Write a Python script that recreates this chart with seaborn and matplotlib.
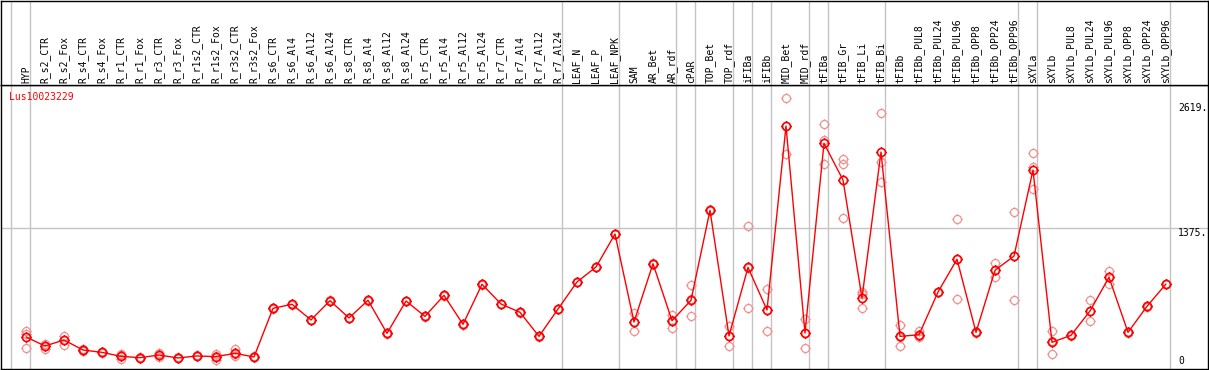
import numpy as np
import pandas as pd
import matplotlib
matplotlib.use("Agg")
import matplotlib.pyplot as plt
import seaborn as sns
from matplotlib.path import Path

gene = "Lus10023229"

categories = [
    "HYP", "R_s2_CTR", "R_s2_Fox", "R_s4_CTR", "R_s4_Fox", "R_r1_CTR", "R_r1_Fox",
    "R_r3_CTR", "R_r3_Fox", "R_r1s2_CTR", "R_r1s2_Fox", "R_r3s2_CTR", "R_r3s2_Fox",
    "R_s6_CTR", "R_s6_Al4", "R_s6_Al12", "R_s6_Al24", "R_s8_CTR", "R_s8_Al4",
    "R_s8_Al12", "R_s8_Al24", "R_r5_CTR", "R_r5_Al4", "R_r5_Al12", "R_r5_Al24",
    "R_r7_CTR", "R_r7_Al4", "R_r7_Al12", "R_r7_Al24", "LEAF_N", "LEAF_P", "LEAF_NPK",
    "SAM", "AR_Bet", "AR_rdf", "cPAR", "TOP_Bet", "TOP_rdf", "iFIBa", "iFIBb",
    "MID_Bet", "MID_rdf", "tFIBa", "tFIB_Gr", "tFIB_Li", "tFIB_Bi", "tFIBb",
    "tFIBb_PUL8", "tFIBb_PUL24", "tFIBb_PUL96", "tFIBb_OPP8", "tFIBb_OPP24",
    "tFIBb_OPP96", "sXYLa", "sXYLb", "sXYLb_PUL8", "sXYLb_PUL24", "sXYLb_PUL96",
    "sXYLb_OPP8", "sXYLb_OPP24", "sXYLb_OPP96",
]

means = [
    289, 199, 259, 159, 136, 96, 83, 109, 80, 100, 93, 126, 90,
    574, 614, 458, 650, 478, 654, 325, 647, 494, 703, 415, 813,
    617, 534, 295, 567, 836, 985, 1313,
    438, 1018, 451, 654, 1549, 299, 981, 557,
    2388, 328, 2216, 1851, 677, 2129, 295,
    311, 736, 1062, 335, 952, 1094,
    1950, 236, 305, 547, 883, 335, 594, 816,
]

rep1 = [
    348, 219, 299, 165, 140, 115, 88, 133, 85, 105, 119, 166, 95,
    578, 618, 462, 654, 482, 658, 329, 651, 498, 707, 419, 817,
    621, 538, 299, 571, 840, 989, 1317,
    524, 1022, 504, 803, 1556, 398, 1393, 763,
    2663, 471, 2408, 2060, 736, 2517, 405,
    351, 740, 1459, 339, 1022, 1529,
    2116, 345, 309, 653, 942, 339, 598, 820,
]

rep2 = [
    315, 199, 259, 159, 136, 105, 83, 105, 80, 100, 100, 115, 90,
    574, 614, 458, 650, 478, 654, 325, 647, 494, 703, 415, 813,
    617, 534, 295, 567, 836, 985, 1313,
    440, 1018, 460, 665, 1549, 299, 976, 557,
    2388, 333, 2249, 2010, 715, 2030, 290,
    295, 736, 1064, 335, 952, 1094,
    1977, 247, 305, 543, 883, 335, 594, 816,
]

rep3 = [
    179, 169, 209, 150, 130, 67, 78, 90, 75, 95, 60, 97, 85,
    570, 610, 454, 646, 474, 650, 321, 643, 490, 699, 411, 809,
    613, 530, 291, 563, 832, 981, 1309,
    345, 1014, 381, 494, 1542, 199, 574, 348,
    2106, 179, 2010, 1473, 580, 1828, 199,
    289, 732, 663, 331, 883, 653,
    1758, 116, 301, 445, 813, 331, 590, 812,
]

group_ends = [-1, 0, 28, 31, 34, 35, 37, 38, 39, 41, 42, 45, 52, 53, 60]
scale_labels = ["2619.", "1375.", "0"]
scale_values = [2619, 1375, 0]

sns.set_theme(style="white")
plt.rcParams["font.family"] = ["DejaVu Sans Mono"]

W, H = 1209, 370
fig = plt.figure(figsize=(W / 100, H / 100), dpi=100)
fig.patch.set_facecolor("white")

ax = fig.add_axes([1 / W, 1 / H, 1207 / W, 284 / H])
axh = fig.add_axes([1 / W, 285 / H, 1207 / W, 84 / H], sharex=ax)

xlim = ((1 - 26) / 19, (1208 - 26) / 19)
ax.set_xlim(*xlim)
ax.set_ylim((366 - 369) * 9.95, (366 - 85) * 9.95)
axh.set_ylim(0, 1)

grid_c = "#c4c4c4"
for a in (ax, axh):
    a.set_facecolor("white")
    for s in a.spines.values():
        s.set_color("black")
        s.set_linewidth(1.0)
    a.tick_params(left=False, bottom=False, top=False, right=False,
                  labelleft=False, labelbottom=False)
    for g in group_ends:
        a.axvline(g + 0.23, color=grid_c, lw=1.0, zorder=0)

ax.axhline(1375, color=grid_c, lw=1.0, zorder=0)

# marker: circle with four small ticks
circ = Path.unit_circle()
t = 1.28
tick_verts = [(0, 1), (0, t), (0, -1), (0, -t), (1, 0), (t, 0), (-1, 0), (-t, 0)]
tick_codes = [Path.MOVETO, Path.LINETO] * 4
mk = Path.make_compound_path(circ, Path(tick_verts, tick_codes))

idx = np.arange(len(categories))
df_rep = pd.DataFrame({
    "idx": np.concatenate([idx, idx, idx]),
    "value": np.concatenate([rep1, rep2, rep3]),
    "rep": np.repeat([1, 2, 3], len(categories)),
})
df_mean = pd.DataFrame({"idx": idx, "value": means})

sns.lineplot(data=df_rep, x="idx", y="value", units="rep", estimator=None,
             linestyle="none", marker=mk, markersize=7.4, markerfacecolor="none",
             markeredgecolor="#f09090", markeredgewidth=0.9, color="#f09090",
             legend=False, ax=ax, zorder=2)
sns.lineplot(data=df_mean, x="idx", y="value", color="#ff0000", lw=1.0,
             marker=mk, markersize=7.4, markerfacecolor="none",
             markeredgecolor="#ff0000", markeredgewidth=1.2,
             legend=False, ax=ax, zorder=3)
ax.set_xlabel("")
ax.set_ylabel("")
ax.set_xlim(*xlim)

# category labels in header
for i, c in enumerate(categories):
    axh.text(i, 2 / 84, c, rotation=90, ha="center", va="bottom",
             fontsize=7, color="black", transform=axh.get_xaxis_transform())

# right-side scale labels
xr = (1178 - 26) / 19
for lab, v in zip(scale_labels, scale_values):
    ax.text(xr, v, lab, ha="left", va="top" if v > 0 else "bottom",
            fontsize=7, color="black")

fig.text(9.5 / W, 1 - 92 / H, gene, ha="left", va="top", fontsize=7, color="red")

fig.savefig("out.png", dpi=100)
